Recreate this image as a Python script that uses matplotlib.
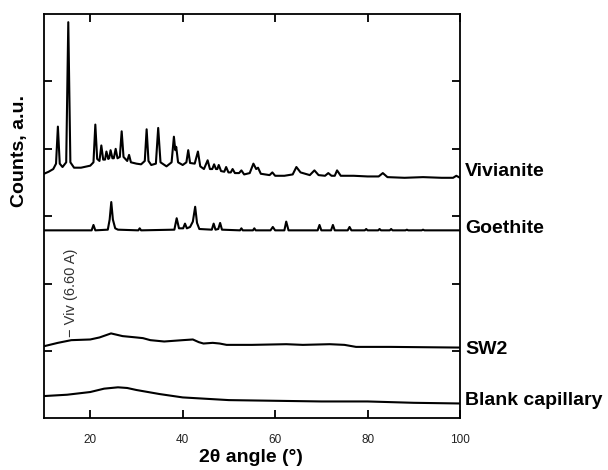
import matplotlib
matplotlib.use("Agg")
import matplotlib.pyplot as plt

plt.rcParams['font.family'] = ['Liberation Sans', 'DejaVu Sans']

viv_x = [10, 11, 12, 12.6, 13.0, 13.4, 14.0, 14.8, 15.25, 15.7, 16.5, 18, 20, 20.7, 21.1, 21.5,
         22.0, 22.4, 22.8, 23.2, 23.5, 23.9, 24.1, 24.4, 24.8, 25.1, 25.5, 25.9, 26.4, 26.8, 27.2,
         28.0, 28.4, 28.8, 30, 31, 31.8, 32.2, 32.6, 33.2, 34.2, 34.7, 35.2, 36.5, 37.6, 38.1,
         38.4, 38.6, 39.0, 40.0, 40.8, 41.2, 41.6, 42.6, 43.3, 43.8, 44.6, 45.4, 45.9, 46.4, 46.8,
         47.2, 47.5, 47.8, 48.3, 49.0, 49.4, 49.9, 50.4, 50.8, 51.3, 52.2, 52.7, 53.3, 54.5, 55.3,
         55.9, 56.3, 56.9, 58.8, 59.4, 60.0, 62, 63.8, 64.6, 65.5, 67.5, 68.5, 69.4, 70.8, 71.5,
         72.2, 72.9, 73.4, 74.2, 77, 80, 82.4, 83.3, 84.3, 88, 92, 96, 98.5, 99.2, 100]
viv_y = [3.63, 3.66, 3.70, 3.78, 4.33, 3.78, 3.73, 3.80, 5.88, 3.80, 3.72, 3.72, 3.75, 3.80, 4.36, 3.85,
         3.82, 4.05, 3.84, 3.84, 3.96, 3.85, 3.86, 3.98, 3.86, 3.86, 4.00, 3.86, 3.88, 4.26, 3.88,
         3.82, 3.91, 3.80, 3.78, 3.77, 3.82, 4.29, 3.82, 3.76, 3.78, 4.31, 3.80, 3.74, 3.80, 4.18,
         3.98, 4.03, 3.80, 3.76, 3.80, 3.98, 3.79, 3.78, 3.96, 3.74, 3.70, 3.83, 3.70, 3.70, 3.77,
         3.70, 3.70, 3.76, 3.67, 3.66, 3.73, 3.65, 3.65, 3.70, 3.64, 3.64, 3.68, 3.62, 3.64, 3.78,
         3.70, 3.72, 3.63, 3.61, 3.65, 3.60, 3.60, 3.62, 3.73, 3.65, 3.61, 3.68, 3.61, 3.60, 3.64,
         3.60, 3.60, 3.68, 3.60, 3.60, 3.59, 3.59, 3.64, 3.58, 3.57, 3.58, 3.57, 3.57, 3.60, 3.57]

goe_x = [10, 20.3, 20.7, 21.1, 23.8, 24.2, 24.55, 24.9, 25.4, 26, 30.4, 30.7, 31.0, 38.2, 38.7,
         39.2, 40.1, 40.5, 40.9, 41.6, 42.2, 42.7, 43.1, 43.6, 46.3, 46.7, 47.1, 47.7, 48.1, 48.5,
         52.4, 52.7, 53.0, 55.2, 55.5, 55.8, 59.0, 59.5, 60.0, 62.0, 62.4, 62.9, 69.2, 69.6, 70.0,
         72.1, 72.5, 72.9, 75.7, 76.1, 76.5, 79.4, 79.7, 80.0, 82.3, 82.6, 82.9, 84.8, 85.1, 85.4,
         88.2, 88.5, 88.8, 91.7, 92.0, 92.3, 100]
goe_y = [2.79, 2.79, 2.87, 2.79, 2.80, 2.95, 3.21, 2.95, 2.82, 2.80, 2.79, 2.82, 2.79, 2.80, 2.97,
         2.82, 2.82, 2.89, 2.82, 2.84, 2.92, 3.14, 2.90, 2.81, 2.80, 2.89, 2.80, 2.81, 2.90, 2.80,
         2.79, 2.82, 2.79, 2.79, 2.82, 2.79, 2.79, 2.84, 2.79, 2.79, 2.92, 2.79, 2.79, 2.87, 2.79,
         2.79, 2.87, 2.79, 2.79, 2.84, 2.79, 2.79, 2.81, 2.79, 2.79, 2.81, 2.79, 2.79, 2.81, 2.79,
         2.79, 2.80, 2.79, 2.79, 2.80, 2.79, 2.79]

sw2_x = [10, 13, 15.9, 20, 22, 24.5, 27, 30, 31.4, 33, 36, 40, 42.2, 43.5, 44.5, 46.5, 48, 49.5,
         55, 62.4, 66, 71.8, 75, 77.5, 85, 100]
sw2_y = [1.07, 1.12, 1.16, 1.17, 1.20, 1.26, 1.22, 1.20, 1.19, 1.16, 1.14, 1.16, 1.17, 1.13, 1.11,
         1.12, 1.11, 1.09, 1.09, 1.10, 1.09, 1.10, 1.09, 1.06, 1.06, 1.05]

blank_x = [10, 15, 20, 23, 26, 28, 30, 35, 40, 45, 50, 60, 70, 80, 90, 100]
blank_y = [0.33, 0.35, 0.39, 0.44, 0.46, 0.45, 0.42, 0.36, 0.31, 0.29, 0.27, 0.26, 0.25, 0.25, 0.23, 0.22]

names = ['Vivianite', 'Goethite', 'SW2', 'Blank capillary']
name_y = [3.67, 2.82, 1.02, 0.27]

fig = plt.figure(figsize=(6.08, 4.70), dpi=100)
ax = fig.add_axes([0.0724, 0.110, 0.6842, 0.860])

for xs, ys in [(viv_x, viv_y), (goe_x, goe_y), (sw2_x, sw2_y), (blank_x, blank_y)]:
    ax.plot(xs, ys, color='black', lw=1.5, solid_joinstyle='round')

ax.set_xlim(10, 100)
ax.set_ylim(0, 6)
ax.set_xticks([20, 40, 60, 80, 100])
ax.set_yticks([1, 2, 3, 4, 5])
ax.set_yticklabels([])
ax.tick_params(direction='in', length=5.5, width=1.3, top=True, right=True, labelsize=8.5,
               pad=11, labelcolor='#222222')
for s in ax.spines.values():
    s.set_linewidth(1.3)

for n, y in zip(names, name_y):
    ax.text(1.012, y, n, transform=ax.get_yaxis_transform(), ha='left', va='center',
            fontsize=14, fontweight='bold')

# marker for the vivianite 6.60 A reflection
ax.text(15.9, 1.21, '\u2212 Viv (6.60 A)', rotation=90, ha='center', va='bottom',
        fontsize=10.5, color='#333333')

fig.text(20 / 608, 1 - 151 / 470, 'Counts, a.u.', rotation=90, ha='center', va='center',
         fontsize=14, fontweight='bold')
fig.text(251 / 608, 1 - 457 / 470, '2\u03b8 angle (\u00b0)', ha='center', va='center',
         fontsize=14, fontweight='bold')

fig.savefig('out.png', dpi=100)
